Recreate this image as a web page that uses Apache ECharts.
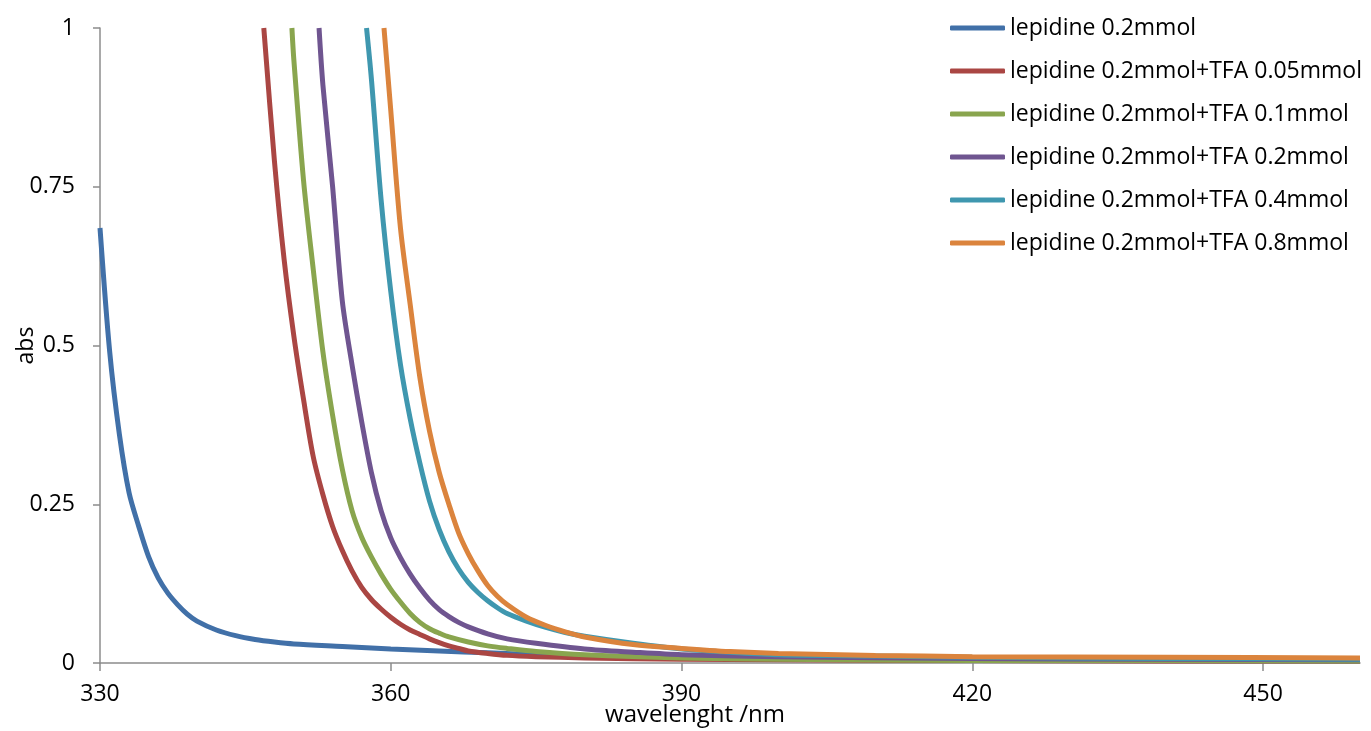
<!DOCTYPE html>
<html>
<head>
<meta charset="utf-8">
<script src="https://cdn.jsdelivr.net/npm/echarts@6/dist/echarts.min.js"></script>
<style>
  html, body { margin: 0; padding: 0; background: #fff; }
  #uvChart { width: 1371px; height: 731px; }
</style>
</head>
<body>
<div id="uvChart"></div>
<script>
// series names, as in the legend
const seriesNames = [
    'lepidine 0.2mmol',
    'lepidine 0.2mmol+TFA 0.05mmol',
    'lepidine 0.2mmol+TFA 0.1mmol',
    'lepidine 0.2mmol+TFA 0.2mmol',
    'lepidine 0.2mmol+TFA 0.4mmol',
    'lepidine 0.2mmol+TFA 0.8mmol'
];

// [wavelength nm, abs]
const lepidine = [[330, 0.685], [331, 0.49], [332, 0.36], [333, 0.268], [334, 0.215], [335, 0.168], [336, 0.134],
    [337, 0.11], [338, 0.092], [339, 0.077], [340, 0.066], [342, 0.052], [344, 0.043], [346, 0.037], [348, 0.033],
    [350, 0.030], [355, 0.026], [360, 0.022], [365, 0.019], [370, 0.016], [375, 0.013], [380, 0.011],
    [390, 0.009], [400, 0.007], [420, 0.005], [440, 0.004], [460, 0.003]];
const tfa005 = [[346.9, 1.0], [348, 0.79], [349, 0.635], [350, 0.515], [351, 0.415], [352, 0.325], [353, 0.265],
    [354, 0.215], [355, 0.177], [356, 0.145], [357, 0.119], [358, 0.100], [359, 0.085], [360, 0.072], [361, 0.061],
    [362, 0.052], [363, 0.045], [364, 0.038], [365, 0.032], [366, 0.027], [367, 0.023], [368, 0.019],
    [370, 0.015], [372, 0.012], [375, 0.010], [380, 0.008], [390, 0.006], [400, 0.005], [420, 0.004],
    [440, 0.003], [460, 0.003]];
const tfa01 = [[349.8, 1.0], [350, 0.95], [351, 0.76], [352, 0.62], [353, 0.49], [354, 0.39], [355, 0.305],
    [356, 0.24], [357, 0.198], [358, 0.167], [359, 0.14], [360, 0.116], [361, 0.096], [362, 0.078], [363, 0.064],
    [364, 0.054], [365, 0.047], [366, 0.041], [368, 0.033], [370, 0.027], [372, 0.023], [375, 0.018],
    [380, 0.013], [390, 0.008], [400, 0.006], [420, 0.004], [440, 0.004], [460, 0.003]];
const tfa02 = [[352.6, 1.0], [353, 0.91], [354, 0.75], [355, 0.57], [356, 0.47], [357, 0.38], [358, 0.30],
    [359, 0.24], [360, 0.197], [361, 0.166], [362, 0.14], [363, 0.118], [364, 0.099], [365, 0.084], [366, 0.073],
    [367, 0.064], [368, 0.057], [370, 0.046], [372, 0.038], [375, 0.031], [380, 0.022], [385, 0.017],
    [390, 0.013], [400, 0.010], [420, 0.007], [440, 0.006], [460, 0.005]];
const tfa04 = [[357.5, 1.0], [358, 0.92], [359, 0.73], [360, 0.585], [361, 0.47], [362, 0.385], [363, 0.315],
    [364, 0.255], [365, 0.21], [366, 0.175], [367, 0.148], [368, 0.127], [369, 0.111], [370, 0.098],
    [371, 0.087], [372, 0.078], [374, 0.066], [376, 0.056], [378, 0.048], [380, 0.042], [385, 0.031],
    [390, 0.022], [395, 0.017], [400, 0.013], [410, 0.011], [420, 0.009], [440, 0.007], [460, 0.006]];
const tfa08 = [[359.3, 1.0], [360, 0.87], [361, 0.685], [362, 0.565], [363, 0.45], [364, 0.365], [365, 0.30],
    [366, 0.25], [367, 0.205], [368, 0.172], [369, 0.145], [370, 0.122], [371, 0.105], [372, 0.092],
    [374, 0.072], [376, 0.059], [378, 0.049], [380, 0.041], [385, 0.029], [390, 0.023], [395, 0.018],
    [400, 0.015], [410, 0.012], [420, 0.010], [440, 0.009], [460, 0.008]];

const xTicks = [330, 360, 390, 420, 450];
const yTicks = [0, 0.25, 0.5, 0.75, 1];

const colors = ['#4170A8', '#AA4643', '#89A54E', '#6F5590', '#3F97AF', '#DB843D'];
const allData = [lepidine, tfa005, tfa01, tfa02, tfa04, tfa08];
const font = '"Open Sans", sans-serif';
const axisGray = '#8c8c8c';

echarts.init(document.getElementById('uvChart')).setOption({
    animation: false,
    color: colors,
    grid: { left: 100, right: 11, top: 28, bottom: 68, containLabel: false, outerBoundsMode: 'none' },
    legend: {
        orient: 'vertical',
        left: 950,
        top: 16,
        padding: 0,
        icon: 'roundRect',
        itemWidth: 55,
        itemHeight: 5,
        itemGap: 19,
        textStyle: { fontFamily: font, fontSize: 23, color: '#000', lineHeight: 24 },
        data: seriesNames
    },
    xAxis: {
        type: 'value',
        min: xTicks[0],
        max: 460,
        interval: xTicks[1] - xTicks[0],
        name: 'wavelenght /nm',
        nameLocation: 'middle',
        nameGap: 40,
        nameMoveOverlap: false,
        nameTextStyle: { fontFamily: font, fontSize: 24, color: '#000', padding: [0, 70, 0, 0] },
        axisLine: { show: true, onZero: false, lineStyle: { color: axisGray, width: 1.5 } },
        axisTick: { show: true, length: 8, customValues: xTicks, lineStyle: { color: axisGray, width: 1.5 } },
        axisLabel: { margin: 20, customValues: xTicks, fontFamily: font, fontSize: 23, color: '#000' },
        splitLine: { show: false }
    },
    yAxis: {
        type: 'value',
        min: yTicks[0],
        max: yTicks[yTicks.length - 1],
        interval: yTicks[1] - yTicks[0],
        name: 'abs',
        nameLocation: 'middle',
        nameGap: 62,
        nameMoveOverlap: false,
        nameTextStyle: { fontFamily: font, fontSize: 23, color: '#000' },
        axisLine: { show: true, lineStyle: { color: axisGray, width: 1.5 } },
        axisTick: { show: true, length: 7, lineStyle: { color: axisGray, width: 1.5 } },
        axisLabel: { margin: 25, fontFamily: font, fontSize: 23, color: '#000' },
        splitLine: { show: false }
    },
    series: allData.map((d, i) => ({
        name: seriesNames[i],
        type: 'line',
        data: d,
        showSymbol: false,
        symbol: 'none',
        smooth: 0.3,
        clip: true,
        lineStyle: { width: 5 }
    }))
});
</script>
</body>
</html>
